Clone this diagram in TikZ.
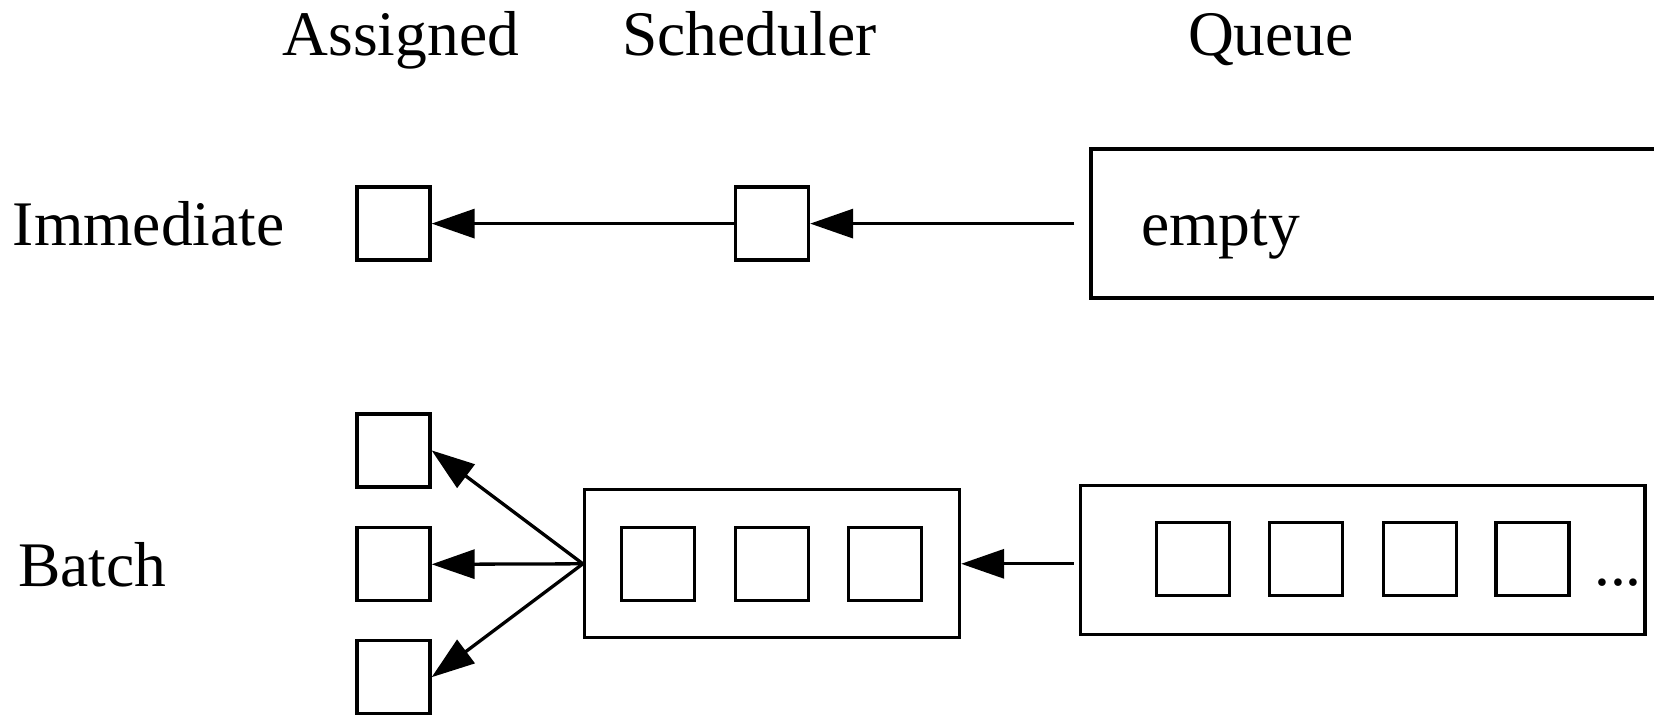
\documentclass[tikz,border=0pt]{standalone}
\usepackage{fontspec}
\setmainfont{Liberation Serif}
\usetikzlibrary{arrows.meta}
\begin{document}
\begin{tikzpicture}[x=1pt,y=-1pt,
  every node/.style={font=\fontsize{63.5pt}{70pt}\selectfont},
  lbl/.style={inner sep=0pt},
  cell/.style={draw,line width=3.3pt,minimum width=73pt,minimum height=73pt,inner sep=0pt},
  container/.style={draw,line width=3.3pt,inner sep=0pt},
  conn/.style={line width=3.3pt,-{Triangle[length=43pt,width=29pt]}}]
\useasboundingbox (0,0) rectangle (1654,715);
% column headings
\node[lbl,anchor=base] (hA) at (400.8,55) {Assigned};
\node[lbl,anchor=base] (hS) at (749.4,55) {Scheduler};
\node[lbl,anchor=base] (hQ) at (1271,55) {Queue};
% row labels
\node[lbl,anchor=base west] (rI) at (12.7,245) {Immediate};
\node[lbl,anchor=base west] (rB) at (18,586) {Batch};
% immediate row
\node[cell] (ia) at (393.5,223.6) {};
\node[cell] (is) at (772,223.6) {};
\node[container,minimum width=600pt,minimum height=149pt] (iq) at (1391,223.6) {};
\node[lbl,anchor=base west] (empty) at (1141,245) {empty};
\draw[conn,shorten <=15pt] (iq.west) -- (is.east);
\draw[conn] (is.west) -- (ia.east);
% batch row
\node[cell] (ba1) at (393.5,450.4) {};
\node[cell] (ba2) at (393.5,564.3) {};
\node[cell] (ba3) at (393.5,677.2) {};
\node[container,minimum width=375pt,minimum height=148pt] (bs) at (772,563.8) {};
\node[cell] (bs1) at (658.2,564.3) {};
\node[cell] (bs2) at (772.1,564.3) {};
\node[cell] (bs3) at (885,564.3) {};
\node[container,minimum width=564.5pt,minimum height=149pt] (bq) at (1362.8,560) {};
\node[cell] (bq1) at (1193,559) {};
\node[cell] (bq2) at (1306,559) {};
\node[cell] (bq3) at (1420,559) {};
\node[cell] (bq4) at (1532.6,559) {};
\node[lbl,anchor=base west] (dots) at (1594,585) {...};
\draw[conn,shorten <=5pt] (bq.west |- bs.east) -- (bs.east);
\draw[conn] (bs.west) -- (ba1.east);
\draw[conn] (bs.west) -- (ba2.east);
\draw[conn] (bs.west) -- (ba3.east);
\end{tikzpicture}
\end{document}
